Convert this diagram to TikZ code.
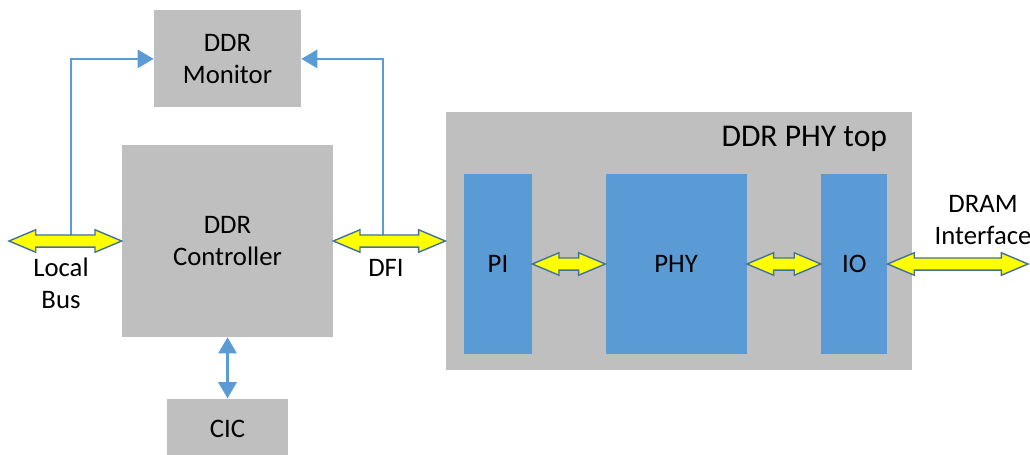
\documentclass[tikz,border=0pt]{standalone}
\usepackage{fontspec}
\setmainfont{Carlito}
\usepackage{tikz}
\usetikzlibrary{arrows.meta,positioning,calc}
\definecolor{boxgray}{RGB}{191,191,191}
\definecolor{boxblue}{RGB}{91,155,213}
\definecolor{busyellow}{RGB}{255,255,0}
\definecolor{busedge}{RGB}{65,113,156}

\begin{document}
\begin{tikzpicture}[x=0.025cm, y=-0.025cm, font=\fontsize{19}{23}\selectfont, node distance=0.8cm]
  \tikzstyle{block}=[fill=boxgray, inner sep=0pt, align=center]
  \tikzstyle{unit}=[fill=boxblue, inner sep=0pt, minimum height=4.5cm]
  \tikzstyle{link}=[draw=boxblue, line width=1.7pt]
  \tikzstyle{bus}=[fill=busyellow, draw=busedge, line width=1pt, line join=miter]
  \useasboundingbox (0,0) rectangle (1030,454);

  \node[block, minimum width=5.275cm, minimum height=4.8cm] (ctrl) at (227.5,241) {DDR\\Controller};
  \node[block, minimum width=3.675cm, minimum height=2.425cm, above=0.925cm of ctrl] (mon) {DDR\\Monitor};
  \node[block, minimum width=3cm, minimum height=1.5cm, below=1.525cm of ctrl] (cic) {CIC};
  \node[block, minimum width=11.65cm, minimum height=6.45cm, right=2.8cm of ctrl] (top) {};
  \node[anchor=base east, font=\fontsize{22.5}{26}\selectfont] (toplbl) at ($(top.north east)+(-20,35)$) {DDR PHY top};

  \node[unit, minimum width=1.7cm] (pi) at (498,264) {PI};
  \node[unit, minimum width=3.525cm, right=1.825cm of pi] (phy) {PHY};
  \node[unit, minimum width=1.65cm, right=1.85cm of phy] (io) {IO};

  \node[align=center] (lbus) at (61,283) {Local\\Bus};
  \node (dfi) at (386,268) {DFI};
  \node[align=center] (dram) at (983,220) {DRAM\\Interface};

  \coordinate (lbend) at (9,241);
  \coordinate (dqend) at (1028,264);
  \coordinate (lbtap) at (71,236);
  \coordinate (dfitap) at (383,236);

  \draw[link, -{Triangle[length=11.5pt,width=13pt]}] (lbtap) |- (mon.west);
  \draw[link, -{Triangle[length=11.5pt,width=13pt]}] (dfitap) |- (mon.east);
  \draw[link, {Triangle[length=11.5pt,width=13pt]}-{Triangle[length=11.5pt,width=13pt]}] (ctrl.south) -- (cic.north);

  % fat yellow buses
  \foreach \a/\b in {lbend/ctrl.west, ctrl.east/top.west, pi.east/phy.west, phy.east/io.west, io.east/dqend}
    \filldraw[bus] let \p1=(\a), \p2=(\b) in
      (\x1,\y1) -- (\x1+19pt,\y1+8pt) -- (\x1+19pt,\y1+4.3pt) -- (\x2-19pt,\y1+4.3pt)
      -- (\x2-19pt,\y1+8pt) -- (\x2,\y1) -- (\x2-19pt,\y1-8pt) -- (\x2-19pt,\y1-4.3pt)
      -- (\x1+19pt,\y1-4.3pt) -- (\x1+19pt,\y1-8pt) -- cycle;
\end{tikzpicture}
\end{document}
